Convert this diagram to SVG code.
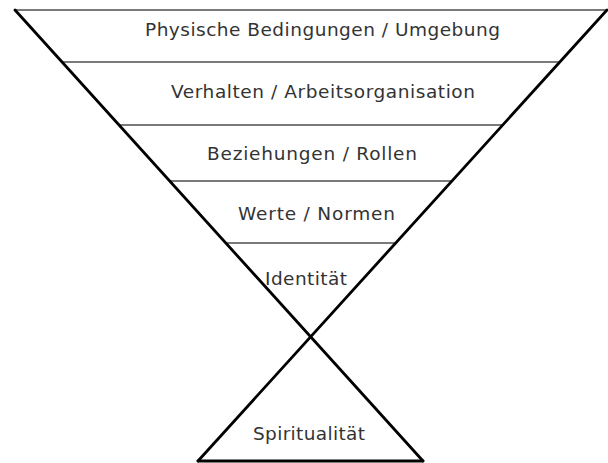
<svg xmlns="http://www.w3.org/2000/svg" width="608" height="463" viewBox="0 0 608 463">
<style>
.sep{stroke:#7a7a7a;stroke-width:2;fill:none}
.edge{stroke:#000;stroke-width:2.8;fill:none;stroke-linecap:round}
.lbl{font-family:"DejaVu Sans","Liberation Sans",sans-serif;font-size:18.5px;fill:#333}
</style>
<rect width="608" height="463" fill="#fff"/>
<g id="band1">
<line class="sep" x1="15" y1="10" x2="607" y2="10"/>
<text class="lbl" x="145" y="36" textLength="355" lengthAdjust="spacing">Physische Bedingungen / Umgebung</text>
</g>
<g id="band2">
<line class="sep" x1="62" y1="62" x2="560" y2="62"/>
<text class="lbl" x="171" y="98" textLength="304" lengthAdjust="spacing">Verhalten / Arbeitsorganisation</text>
</g>
<g id="band3">
<line class="sep" x1="119" y1="125" x2="503" y2="125"/>
<text class="lbl" x="207" y="160" textLength="210" lengthAdjust="spacing">Beziehungen / Rollen</text>
</g>
<g id="band4">
<line class="sep" x1="170" y1="181" x2="453" y2="181"/>
<text class="lbl" x="238" y="220" textLength="157" lengthAdjust="spacing">Werte / Normen</text>
</g>
<g id="band5">
<line class="sep" x1="226" y1="243" x2="397" y2="243"/>
<text class="lbl" x="265" y="285" textLength="82" lengthAdjust="spacing">Identität</text>
</g>
<g id="spiritualitaet">
<line class="edge" x1="198" y1="461" x2="423" y2="461"/>
<text class="lbl" x="253" y="440" textLength="112" lengthAdjust="spacing">Spiritualität</text>
</g>
<g id="connectors">
<line class="edge" x1="15" y1="10" x2="423" y2="461"/>
<line class="edge" x1="607" y1="10" x2="198" y2="461"/>
</g>
</svg>
